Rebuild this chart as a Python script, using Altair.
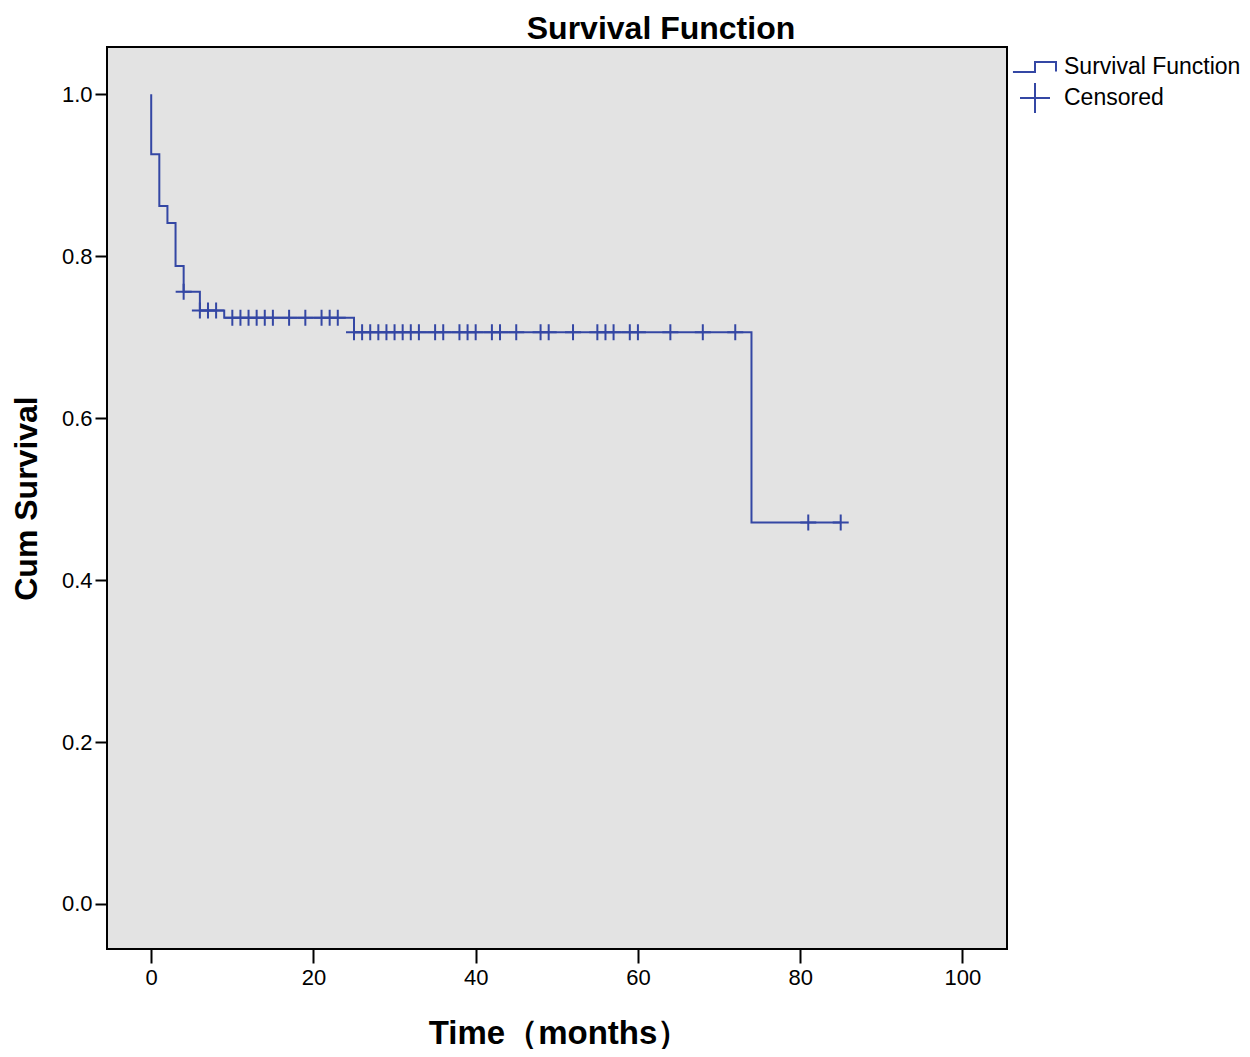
import altair as alt
import pandas as pd

# Survival step function (Kaplan-Meier)
step_time = [0, 0, 1, 2, 3, 4, 6, 9, 25, 74, 85]
step_surv = [1.0, 0.926, 0.862, 0.841, 0.788, 0.756, 0.733, 0.724, 0.706, 0.471, 0.471]

# Censored observation times
censor_time = [4, 6, 7, 8, 10, 11, 12, 13, 14, 15, 17, 19, 21, 22, 23,
               25, 26, 27, 28, 29, 30, 31, 32, 33, 35, 36, 38, 39, 40, 42, 43,
               45, 48, 49, 52, 55, 56, 57, 59, 60, 64, 68, 72, 81, 85]

x_ticks = [0, 20, 40, 60, 80, 100]
y_ticks = [0.0, 0.2, 0.4, 0.6, 0.8, 1.0]

BLUE = "#3447a4"
FONT = "Liberation Sans"

step_df = pd.DataFrame({"time": step_time, "surv": step_surv, "idx": range(len(step_time))})

def level_at(t):
    lvl = step_surv[0]
    for tt, s in zip(step_time, step_surv):
        if tt <= t:
            lvl = s
    return lvl

cens_df = pd.DataFrame({
    "time": censor_time,
    "surv": [level_at(t) for t in censor_time],
    "series": ["Censored"] * len(censor_time),
})

x_scale = alt.Scale(domain=[-5.45, 105.5], nice=False, zero=False)
y_scale = alt.Scale(domain=[-0.0556, 1.0584], nice=False, zero=False)

x_axis = alt.Axis(values=x_ticks, title="Time（months）", grid=False, domain=False,
                  tickSize=14, tickWidth=2, tickColor="black",
                  labelFont=FONT, labelFontSize=22, labelColor="black", labelPadding=4,
                  titleFont=FONT, titleFontSize=33, titleFontWeight="bold", titleColor="black",
                  titleBaseline="alphabetic", titleY=94, titleX=452)
y_axis = alt.Axis(values=y_ticks, format=".1f", title="Cum Survival", grid=False, domain=False,
                  tickSize=12, tickWidth=2, tickColor="black",
                  labelFont=FONT, labelFontSize=22, labelColor="black", labelPadding=3,
                  titleFont=FONT, titleFontSize=32, titleFontWeight="bold", titleColor="black",
                  titleBaseline="alphabetic", titleX=-71, titleAngle=-90)

# legend symbols: symbolSize 900 -> unit = 15px
step_path = "M-1.47,0.33L0,0.33L0,-0.33L1.4,-0.33L1.4,0.3"
# plot censor mark (size 256 -> unit = 8px)
cross_mark = "M-1,0L1,0M0,-1L0,1"

line = alt.Chart(step_df).mark_line(interpolate="step-after", color=BLUE, strokeWidth=2).encode(
    x=alt.X("time:Q", scale=x_scale, axis=x_axis),
    y=alt.Y("surv:Q", scale=y_scale, axis=y_axis),
    order="idx:Q",
)

points = alt.Chart(cens_df).mark_point(filled=False, color=BLUE, strokeWidth=2, size=256,
                                       opacity=1, shape=cross_mark).encode(
    x=alt.X("time:Q", scale=x_scale),
    y=alt.Y("surv:Q", scale=y_scale),
    shape=alt.Shape("series:N",
                    scale=alt.Scale(domain=["Survival Function", "Censored"],
                                    range=[step_path, cross_mark]),
                    legend=alt.Legend(title=None, orient="none", legendX=912, legendY=4,
                                      symbolSize=900, symbolStrokeColor=BLUE,
                                      symbolFillColor="transparent", symbolStrokeWidth=2,
                                      values=["Survival Function", "Censored"],
                                      labelFont=FONT, labelFontSize=23, labelColor="black",
                                      labelOffset=13, labelLimit=0, rowPadding=0)),
)

chart = alt.layer(line, points).properties(
    width=900,
    height=902,
    title=alt.TitleParams("Survival Function", font=FONT, fontSize=32, fontWeight="bold",
                          color="black", anchor="middle", frame="group", dx=104,
                          offset=-24, baseline="alphabetic"),
    autosize=alt.AutoSizeParams(type="none"),
    padding={"left": 99, "top": 39, "right": 235, "bottom": 100},
).configure_view(
    fill="#e3e3e3", stroke="black", strokeWidth=2
)

chart.save("out.html", embed_options={"renderer": "svg", "actions": False})
